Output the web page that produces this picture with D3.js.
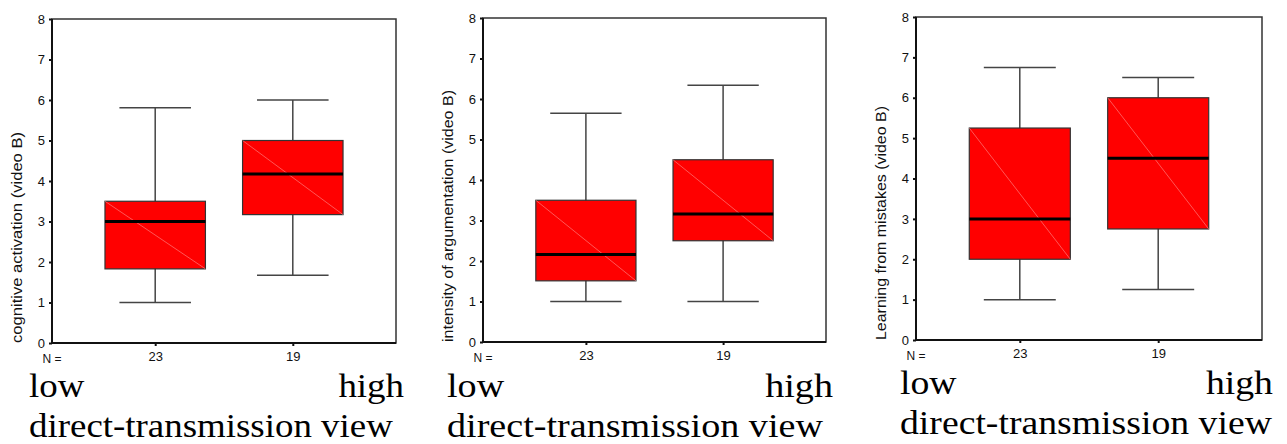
<html>
  <head>
    <meta charset="utf-8" />
    <script src="https://d3js.org/d3.v7.min.js"></script>
    <style>
      body { margin: 0; background: #fff; }
      svg { display: block; }
      .tick text { font-family: "Liberation Sans", Arial, sans-serif; font-size: 13px; fill: #111; }
      .tick line { stroke: #111; stroke-width: 2; }
      .ylab { font-family: "Liberation Sans", Arial, sans-serif; font-size: 14px; fill: #111; }
      .nlab { font-family: "Liberation Sans", Arial, sans-serif; font-size: 12px; fill: #111; }
      .big { font-family: "Liberation Serif", "Times New Roman", serif; font-size: 33px; fill: #000; }
    </style>
  </head>
  <body>
    <svg width="1287" height="444"></svg>
    <script>
      // data
      const groups = ["low", "high"];
      const nCounts = [23, 19];
      const yTicks = [0, 1, 2, 3, 4, 5, 6, 7, 8];
      const yTitles = [
        "cognitive activation (video B)",
        "intensity of argumentation (video B)",
        "Learning from mistakes (video B)"
      ];
      // min, q1, median, q3, max per group
      const cognitive = [
        [1.0, 1.83, 3.0, 3.5, 5.81],
        [1.67, 3.17, 4.17, 5.0, 6.0]
      ];
      const argumentation = [
        [1.0, 1.51, 2.16, 3.5, 5.65],
        [1.0, 2.5, 3.16, 4.5, 6.34]
      ];
      const mistakes = [
        [1.0, 2.0, 3.0, 5.25, 6.75],
        [1.25, 2.75, 4.5, 6.0, 6.5]
      ];
      const panelData = [cognitive, argumentation, mistakes];

      // frame of each panel on the page
      const frames = [
        { left: 52, right: 396, top: 19, bottom: 343, lowX: 29, highX: 404, base: 397, textW: 364, titleLen: 211 },
        { left: 483, right: 826, top: 18, bottom: 342, lowX: 447, highX: 833, base: 397, textW: 376, titleLen: 252 },
        { left: 916, right: 1262, top: 17, bottom: 340, lowX: 900, highX: 1273, base: 394, textW: 372, titleLen: 234 }
      ];

      const svg = d3.select("svg");

      panelData.forEach(function (stats, i) {
        const f = frames[i];
        const g = svg.append("g");

        const x = d3.scalePoint().domain(nCounts.map(String)).range([f.left, f.right]).padding(0.75);
        const y = d3.scaleLinear().domain([0, 8]).range([f.bottom, f.top]);
        const step = x.step();
        const boxW = step * 0.73;
        const capW = step * 0.52;

        // frame
        g.append("rect")
          .attr("x", f.left).attr("y", f.top)
          .attr("width", f.right - f.left).attr("height", f.bottom - f.top)
          .attr("fill", "none").attr("stroke", "#333").attr("stroke-width", 1.5);

        // y axis
        const yAxis = d3.axisLeft(y).tickValues(yTicks).tickSize(3).tickPadding(4);
        g.append("g").attr("transform", "translate(" + f.left + ",0)").call(yAxis)
          .call(s => s.select(".domain").remove());
        g.append("line")
          .attr("x1", f.left).attr("x2", f.left).attr("y1", f.top).attr("y2", f.bottom)
          .attr("stroke", "#111").attr("stroke-width", 2);

        // x axis
        const xAxis = d3.axisBottom(x).tickSize(3).tickPadding(6);
        g.append("g").attr("transform", "translate(0," + f.bottom + ")").call(xAxis)
          .call(s => s.select(".domain").remove());
        g.append("line")
          .attr("x1", f.left).attr("x2", f.right).attr("y1", f.bottom).attr("y2", f.bottom)
          .attr("stroke", "#111").attr("stroke-width", 2);

        g.append("text").attr("class", "nlab")
          .attr("x", f.left).attr("y", f.bottom + 20)
          .attr("text-anchor", "middle").text("N =");

        // y title
        g.append("text").attr("class", "ylab")
          .attr("transform", "translate(" + (f.left - 30) + "," + f.bottom + ") rotate(-90)")
          .attr("text-anchor", "start")
          .attr("textLength", f.titleLen).attr("lengthAdjust", "spacingAndGlyphs")
          .text(yTitles[i]);

        // boxes
        const box = g.selectAll("g.box").data(stats).enter().append("g").attr("class", "box");
        const cx = (d, j) => x(String(nCounts[j]));

        box.append("line")
          .attr("x1", cx).attr("x2", cx)
          .attr("y1", d => y(d[0])).attr("y2", d => y(d[4]))
          .attr("stroke", "#444").attr("stroke-width", 1.5);
        box.append("line")
          .attr("x1", (d, j) => cx(d, j) - capW / 2).attr("x2", (d, j) => cx(d, j) + capW / 2)
          .attr("y1", d => y(d[4])).attr("y2", d => y(d[4]))
          .attr("stroke", "#444").attr("stroke-width", 1.5);
        box.append("line")
          .attr("x1", (d, j) => cx(d, j) - capW / 2).attr("x2", (d, j) => cx(d, j) + capW / 2)
          .attr("y1", d => y(d[0])).attr("y2", d => y(d[0]))
          .attr("stroke", "#444").attr("stroke-width", 1.5);
        box.append("rect")
          .attr("x", (d, j) => cx(d, j) - boxW / 2).attr("width", boxW)
          .attr("y", d => y(d[3])).attr("height", d => y(d[1]) - y(d[3]))
          .attr("fill", "#ff0000").attr("stroke", "#333").attr("stroke-width", 1.2);
        box.append("line")
          .attr("x1", (d, j) => cx(d, j) - boxW / 2).attr("x2", (d, j) => cx(d, j) + boxW / 2)
          .attr("y1", d => y(d[3])).attr("y2", d => y(d[1]))
          .attr("stroke", "#ff9090").attr("stroke-width", 0.6);
        box.append("line")
          .attr("x1", (d, j) => cx(d, j) - boxW / 2).attr("x2", (d, j) => cx(d, j) + boxW / 2)
          .attr("y1", d => y(d[2])).attr("y2", d => y(d[2]))
          .attr("stroke", "#000").attr("stroke-width", 3);

        // group labels below, stretched sideways like the original
        const longText = g.append("text").attr("class", "big")
          .text("direct-transmission view");
        const sx = f.textW / longText.node().getComputedTextLength();
        longText.attr("transform", "translate(" + f.lowX + "," + (f.base + 40) + ") scale(" + sx + ",1)");
        g.append("text").attr("class", "big")
          .attr("transform", "translate(" + f.lowX + "," + f.base + ") scale(" + sx + ",1)")
          .text(groups[0]);
        g.append("text").attr("class", "big")
          .attr("transform", "translate(" + f.highX + "," + f.base + ") scale(" + sx + ",1)")
          .attr("text-anchor", "end").text(groups[1]);
      });
    </script>
  </body>
</html>
